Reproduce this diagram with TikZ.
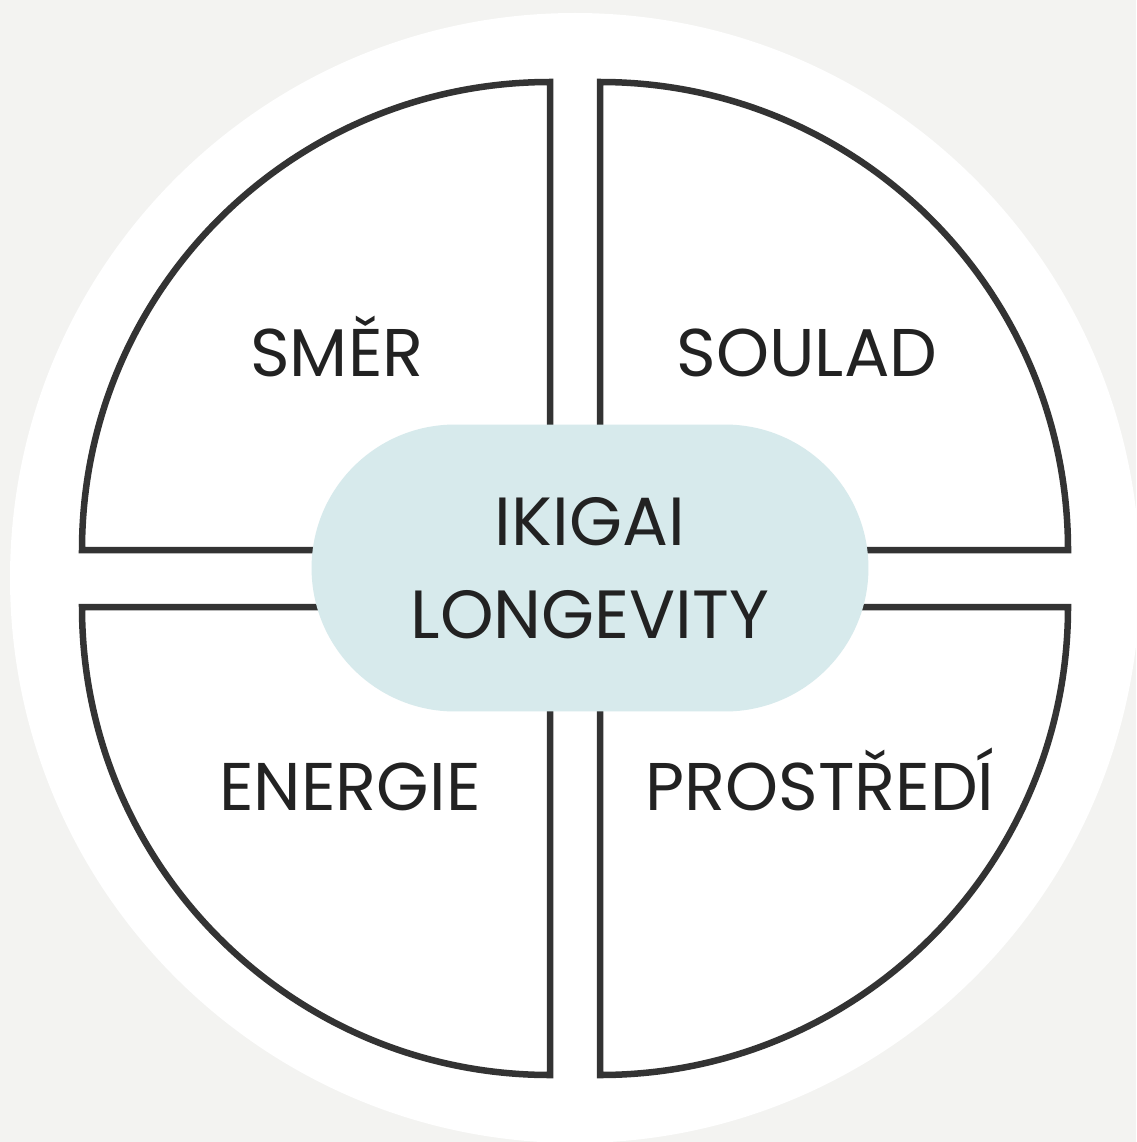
\documentclass[tikz,border=0pt]{standalone}
\usepackage{fontspec}
\setmainfont{Poppins}
\definecolor{paper}{RGB}{243,243,241}
\definecolor{inkline}{RGB}{51,51,51}
\definecolor{inktext}{RGB}{34,34,34}
\definecolor{pillblue}{RGB}{215,234,236}
\begin{document}
\begin{tikzpicture}[x=0.02cm, y=-0.02cm,
        quarter/.style={draw=inkline, fill=white, line width=3.7pt, line join=miter},
        label/.style={text=inktext, inner sep=0, anchor=base, font=\fontsize{38.4}{46}\selectfont},
        pill/.style={fill=pillblue, rounded corners=2.87cm, minimum width=11.14cm, minimum height=5.74cm, inner sep=0, text=inktext, align=center, font=\fontsize{38.8}{52.9}\selectfont}]
        % Paper and white disc:
        \useasboundingbox (0, 0) rectangle (1136, 1142);
        \fill[paper] (0, 0) rectangle (1136, 1142);
        \fill[white] (575, 578) circle[radius=565];
        % Quarters:
        \draw[quarter] (550, 550) -- (82, 550) arc[start angle=180, end angle=270, radius=468] -- cycle;
        \draw[quarter] (600, 550) -- (600, 82) arc[start angle=270, end angle=360, radius=468] -- cycle;
        \draw[quarter] (600, 607) -- (1068, 607) arc[start angle=0, end angle=90, radius=468] -- cycle;
        \draw[quarter] (550, 607) -- (550, 1075) arc[start angle=90, end angle=180, radius=468] -- cycle;
        % Labels:
        \node[label](Smer) at (337, 376){SMĚR};
        \node[label](Soulad) at (807, 376){SOULAD};
        \node[label](Energie) at (350, 810){ENERGIE};
        \node[label](Prostredi) at (820, 810){PROSTŘEDÍ};
        % Centre:
        \node[pill](Ikigai) at (590, 568){IKIGAI\\LONGEVITY};
\end{tikzpicture}
\end{document}
